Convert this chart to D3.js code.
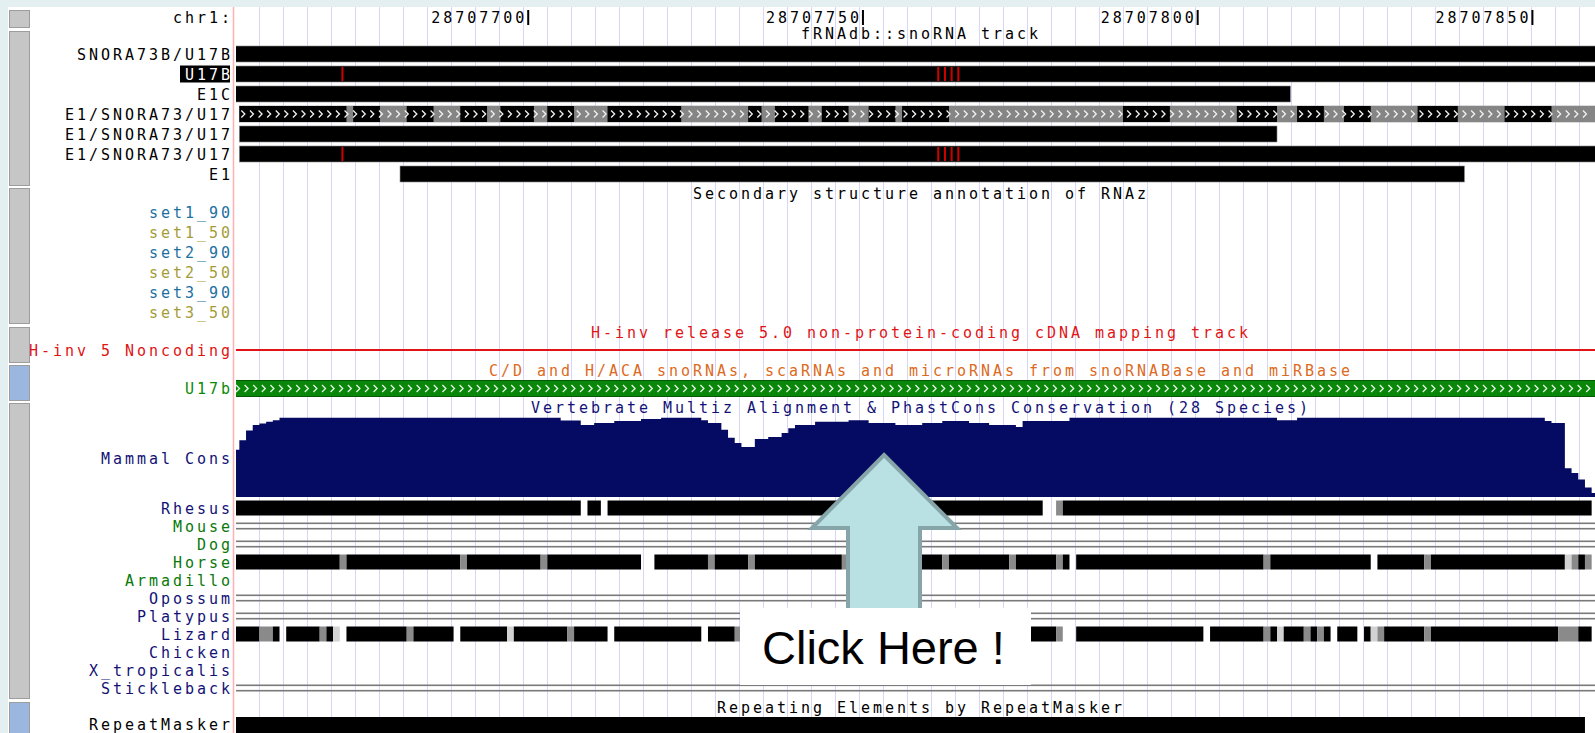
<!DOCTYPE html>
<html>
<head>
<meta charset="utf-8">
<script src="https://cdn.jsdelivr.net/npm/d3@7"></script>
<style>
body { margin: 0; background: #e4eff2; overflow: hidden; }
svg text { font-family: "DejaVu Sans Mono", "Liberation Mono", monospace; font-size: 15px; letter-spacing: 2.97px; }
svg text.click { font-family: "Liberation Sans", Arial, sans-serif; font-size: 47px; letter-spacing: 0; }
</style>
</head>
<body>
<svg id="chart" width="1595" height="733"></svg>
<script>
// positions are offsets (bp) from POS0
var POS0 = 28707600;
var chromName = "chr1:";
var rulerTicks = [100, 150, 200, 250];

var fTitle = "fRNAdb::snoRNA track";
var featureNames = ["SNORA73B/U17B", "U17B", "E1C", "E1/SNORA73/U17", "E1/SNORA73/U17", "E1/SNORA73/U17", "E1"];
var featureStart = [50, 50, 50, 57, 57, 57, 81];
var featureEnd = [265, 265, 214, 265, 212, 265, 240];
var featureMarks = [[], [72, 161, 162, 163, 164], [], [], [], [72, 161, 162, 163, 164], []];
var strandedRow = 3;
var strandedBlocks = [[57, 73], [74, 78], [82, 86], [90, 94], [96, 101], [103, 107], [112, 123],
	[133, 135], [137, 142], [144, 148], [151, 155], [156, 163], [189, 196], [206, 212],
	[215, 219], [222, 226], [233, 239], [246, 253]];

var rnazTitle = "Secondary structure annotation of RNAz";
var rnazNames = ["set1_90", "set1_50", "set2_90", "set2_50", "set3_90", "set3_50"];

var hinvTitle = "H-inv release 5.0 non-protein-coding cDNA mapping track";
var hinvLabel = "H-inv 5 Noncoding";

var snoTitle = "C/D and H/ACA snoRNAs, scaRNAs and microRNAs from snoRNABase and miRBase";
var snoLabel = "U17b";
var snoSpan = [50, 265];

var consTitle = "Vertebrate Multiz Alignment & PhastCons Conservation (28 Species)";
var consLabel = "Mammal Cons";
var consPos = [56, 57, 58, 59, 60, 61, 62, 63, 105, 108, 110, 113, 117, 120, 126, 127, 129, 130, 131, 132,
	134, 136, 138, 139, 140, 143, 148, 151, 155, 159, 162, 166, 169, 173, 174, 181, 212, 215, 252, 253,
	255, 256, 257, 258, 259];
var consVal = [0.59, 0.71, 0.83, 0.9, 0.92, 0.94, 0.96, 0.99, 0.955, 0.9, 0.925, 0.95, 0.975, 0.99, 0.96, 0.925, 0.84, 0.74, 0.675, 0.625,
	0.725, 0.75, 0.8, 0.86, 0.9, 0.94, 0.96, 0.925, 0.9, 0.925, 0.95, 0.925, 0.9, 0.875, 0.95, 0.99, 0.96, 0.99, 0.95, 0.925,
	0.36, 0.3, 0.22, 0.12, 0.05];

var speciesNames = ["Rhesus", "Mouse", "Dog", "Horse", "Armadillo", "Opossum", "Platypus", "Lizard", "Chicken", "X_tropicalis", "Stickleback"];
var speciesGroup = ["primate", "placental", "placental", "placental", "placental", "other", "other", "other", "other", "other", "other"];
var speciesKind = ["blocks", "gap", "gap", "blocks", "none", "gap", "gap", "blocks", "none", "none", "gap"];
// [start, end, shade] shade 0 = aligned, 1 = mismatch, 2 = weak
var rhesusBlocks = [[50, 108, 0], [109, 111, 0], [112, 177, 0], [179, 180, 1], [180, 259, 0]];
var horseBlocks = [[50, 72, 0], [72, 73, 1], [73, 90, 0], [90, 91, 1], [91, 102, 0], [102, 103, 1], [103, 117, 0],
	[119, 127, 0], [127, 128, 1], [128, 133, 0], [133, 134, 1], [134, 147, 0], [147, 148, 1], [148, 162, 0],
	[162, 163, 1], [163, 172, 0], [172, 173, 1], [173, 179, 0], [179, 180, 1], [180, 181, 0], [182, 210, 0],
	[210, 211, 1], [211, 226, 0], [227, 234, 0], [234, 235, 1], [235, 255, 0], [255, 256, 2], [256, 257, 1],
	[257, 258, 0], [258, 259, 1]];
var lizardBlocks = [[50, 60, 0], [60, 62, 1], [62, 63, 0], [64, 69, 0], [69, 70, 1], [70, 71, 0], [71, 72, 2],
	[73, 82, 0], [82, 83, 1], [83, 89, 0], [90, 97, 0], [97, 98, 2], [98, 106, 0], [106, 107, 1], [107, 112, 0],
	[113, 126, 0], [127, 131, 0], [131, 132, 1], [132, 140, 0], [141, 150, 0], [150, 151, 1], [151, 170, 0],
	[175, 179, 0], [179, 180, 1], [182, 201, 0], [202, 210, 0], [210, 211, 1], [211, 212, 0], [212, 213, 2],
	[213, 216, 0], [216, 217, 1], [217, 218, 0], [218, 219, 1], [219, 220, 0], [221, 224, 0], [225, 226, 0],
	[226, 227, 2], [227, 228, 1], [228, 234, 0], [234, 235, 1], [235, 254, 0], [254, 257, 1], [257, 259, 0]];
var speciesBlocks = [rhesusBlocks, null, null, horseBlocks, null, null, null, lizardBlocks, null, null, null];

var repTitle = "Repeating Elements by RepeatMasker";
var repLabel = "RepeatMasker";
var repSpan = [50, 258];

var calloutText = "Click Here !";

// ---- drawing ----
var W = 1595, H = 733;
var svg = d3.select("#chart");
var x = d3.scaleLinear().domain([POS0 + 56.5, POS0 + 259.5]).range([236, 1595]);
function px(u) { return x(POS0 + u); }
var labelX = 233;
var titleX = 921;
var navy = "#121276", green = "#087808";

svg.append("rect").attr("x", 8).attr("y", 7).attr("width", W - 8).attr("height", H - 7).attr("fill", "#fff");

svg.append("clipPath").attr("id", "data-clip")
	.append("rect").attr("x", 236).attr("y", 0).attr("width", W - 236).attr("height", H);

// vertical guide lines
svg.append("g").selectAll("line")
	.data(d3.range(259, W, 24))
	.enter().append("line")
	.attr("x1", function(d) { return d + 0.5; })
	.attr("x2", function(d) { return d + 0.5; })
	.attr("y1", 7).attr("y2", H)
	.attr("stroke", "#d6d6fb").attr("stroke-width", 1);

svg.append("line").attr("x1", 233.5).attr("x2", 233.5).attr("y1", 7).attr("y2", H)
	.attr("stroke", "#ffb0b0").attr("stroke-width", 1.5);

var data = svg.append("g").attr("clip-path", "url(#data-clip)");
var labels = svg.append("g");

function label(txt, y, color) {
	return labels.append("text").attr("x", labelX).attr("y", y + 5.5)
		.attr("text-anchor", "end").attr("fill", color || "#000").text(txt);
}
function title(txt, y, color) {
	return labels.append("text").attr("x", titleX).attr("y", y + 5.5)
		.attr("text-anchor", "middle").attr("fill", color || "#000").text(txt);
}
function chevrons(g, x0, x1, cy, color) {
	var pts = d3.range(x0 + 4, x1 - 2, 8.6);
	g.selectAll(null).data(pts).enter().append("path")
		.attr("d", function(d) { return "M" + (d - 2) + "," + (cy - 3.5) + "L" + (d + 1.5) + "," + cy + "L" + (d - 2) + "," + (cy + 3.5); })
		.attr("fill", "none").attr("stroke", color).attr("stroke-width", 1.3);
}

// ruler
label(chromName, 17);
rulerTicks.forEach(function(t) {
	svg.append("rect").attr("x", px(t)).attr("y", 10).attr("width", 2).attr("height", 15).attr("fill", "#000");
	svg.append("text").attr("x", px(t)).attr("y", 23).attr("text-anchor", "end").text(d3.format("d")(POS0 + t));
});

// fRNAdb features
title(fTitle, 33);
featureNames.forEach(function(name, i) {
	var cy = 54 + i * 20;
	data.append("rect").attr("x", px(featureStart[i])).attr("y", cy - 8)
		.attr("width", px(featureEnd[i]) - px(featureStart[i])).attr("height", 16)
		.attr("fill", i === strandedRow ? "#858585" : "#000").attr("stroke", "#8a8a8a").attr("stroke-width", 0.6);
	if (i === strandedRow) {
		data.append("g").selectAll("rect").data(strandedBlocks).enter().append("rect")
			.attr("x", function(d) { return px(d[0]); })
			.attr("width", function(d) { return px(d[1]) - px(d[0]); })
			.attr("y", cy - 8).attr("height", 16).attr("fill", "#000");
		chevrons(data.append("g"), px(featureStart[i]), W, cy, "#f2f2f2");
	}
	data.append("g").selectAll("rect").data(featureMarks[i]).enter().append("rect")
		.attr("x", function(d) { return px(d + 0.25); })
		.attr("width", 2).attr("y", cy - 7).attr("height", 14).attr("fill", "#d00000");
	if (i === 1) {
		labels.append("rect").attr("x", 180).attr("y", cy - 8.5).attr("width", 50).attr("height", 17).attr("fill", "#000");
		label(name, cy, "#fff");
	} else {
		label(name, cy);
	}
});

// RNAz
title(rnazTitle, 193);
rnazNames.forEach(function(name, i) {
	label(name, 212 + i * 20, /_90$/.test(name) ? "#1b6fa2" : "#a49c3a");
});

// H-inv
title(hinvTitle, 332, "#e01414");
label(hinvLabel, 350, "#e01414");
data.append("rect").attr("x", 236).attr("y", 349).attr("width", W - 236).attr("height", 2).attr("fill", "#e01414");

// snoRNABase
title(snoTitle, 370, "#dc6a22");
label(snoLabel, 388, "#0a8a0a");
data.append("rect").attr("x", px(snoSpan[0])).attr("y", 380.5)
	.attr("width", px(snoSpan[1]) - px(snoSpan[0])).attr("height", 16)
	.attr("fill", "#0a870a").attr("stroke", "#055a05").attr("stroke-width", 1);
chevrons(data.append("g"), 234, W, 388.5, "#e4f6e4");

// conservation
title(consTitle, 407, navy);
label(consLabel, 458, navy);
var yc = d3.scaleLinear().domain([0, 1]).range([497, 417]);
var consData = consPos.map(function(p, i) { return [p, consVal[i]]; });
consData.push([260, consVal[consVal.length - 1]]);
var area = d3.area()
	.x(function(d) { return px(d[0]); })
	.y0(yc(0))
	.y1(function(d) { return yc(d[1]); })
	.curve(d3.curveStepAfter);
data.append("path").datum(consData).attr("d", area).attr("fill", "#050a62");

// species rows
var shadeColor = ["#000", "#8a8a8a", "#d2d2d2"];
speciesNames.forEach(function(name, i) {
	var cy = 508 + i * 18;
	label(name, cy, speciesGroup[i] === "placental" ? green : navy);
	if (speciesKind[i] === "gap") {
		[-2.7, 2.7].forEach(function(o) {
			data.append("rect").attr("x", 236).attr("y", cy + o - 0.8).attr("width", W - 236).attr("height", 1.6).attr("fill", "#7a7a7a");
		});
	} else if (speciesKind[i] === "blocks") {
		data.append("g").selectAll("rect").data(speciesBlocks[i]).enter().append("rect")
			.attr("x", function(d) { return px(d[0]); })
			.attr("width", function(d) { return px(d[1]) - px(d[0]); })
			.attr("y", cy - 7.5).attr("height", 15)
			.attr("fill", function(d) { return shadeColor[d[2]]; });
	}
});

// RepeatMasker
title(repTitle, 707);
label(repLabel, 724);
data.append("rect").attr("x", px(repSpan[0])).attr("y", 717)
	.attr("width", px(repSpan[1]) - px(repSpan[0])).attr("height", 20).attr("fill", "#000");

// side buttons
var buttons = [[10, 27, "#c6c6c6"], [31, 185, "#c6c6c6"], [188, 323, "#c6c6c6"], [327, 362, "#c6c6c6"],
	[365, 400, "#9bb6df"], [403, 698, "#c6c6c6"], [702, 740, "#9bb6df"]];
svg.append("g").selectAll("rect").data(buttons).enter().append("rect")
	.attr("x", 9.5).attr("y", function(d) { return d[0] + 0.5; })
	.attr("width", 20).attr("height", function(d) { return d[1] - d[0]; })
	.attr("fill", function(d) { return d[2]; })
	.attr("stroke", "#9d9d9d").attr("stroke-width", 1);

// callout
var arrow = [[884, 455], [957, 528], [920, 528], [920, 620], [848, 620], [848, 528], [812, 528]];
svg.append("polygon").attr("points", arrow.map(function(p) { return p.join(","); }).join(" "))
	.attr("fill", "#b9e0e3").attr("stroke", "#86a5a8").attr("stroke-width", 4).attr("stroke-linejoin", "miter");
svg.append("rect").attr("x", 740).attr("y", 608).attr("width", 291).attr("height", 77).attr("fill", "#fff");
svg.append("text").attr("class", "click").attr("x", 762).attr("y", 664).attr("fill", "#000").text(calloutText);
</script>
</body>
</html>
